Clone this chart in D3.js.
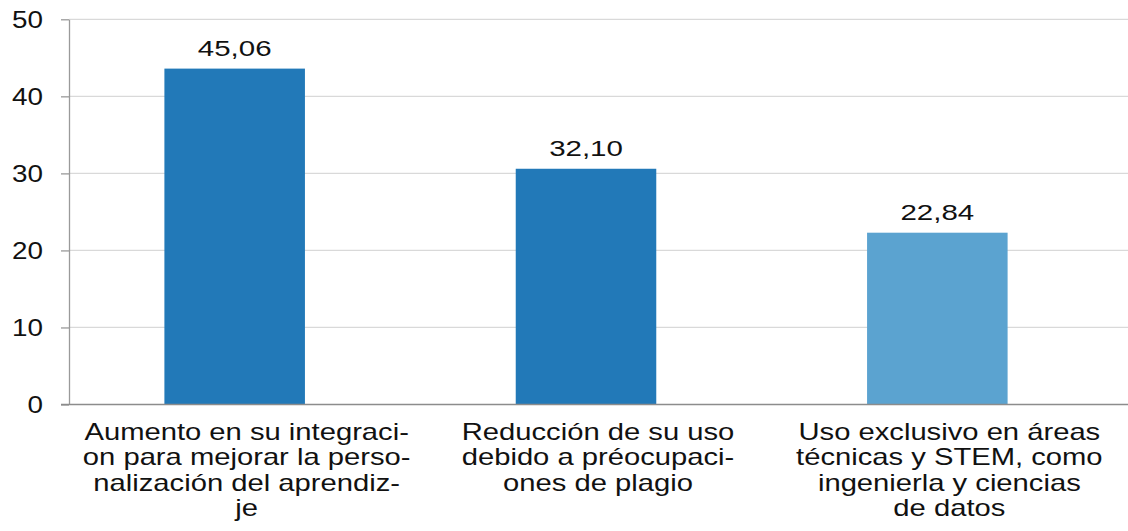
<!DOCTYPE html>
<html>
<head>
<meta charset="utf-8">
<script src="https://cdn.jsdelivr.net/npm/d3@7"></script>
<style>
  body { margin: 0; background: #fff; }
  text { font-family: "Liberation Sans", Arial, sans-serif; fill: #111; }
</style>
</head>
<body>
<script>
'use strict';

// bar heights as drawn in the picture, and the printed value labels
const barValues = [43.6, 30.6, 22.3];
const valueLabels = ["45,06", "32,10", "22,84"];
const barColors = ["#2279B8", "#2279B8", "#5BA3D0"];
const yTicks = [0, 10, 20, 30, 40, 50];
const categoryLines = [
  ["Aumento en su integraci-", "on para mejorar la perso-", "nalización del aprendiz-", "je"],
  ["Reducción de su uso", "debido a préocupaci-", "ones de plagio"],
  ["Uso exclusivo en áreas", "técnicas y STEM, como", "ingenierla y ciencias", "de datos"]
];
const categories = categoryLines.map(l => l.join(" "));

const width = 1128, height = 531;

const svg = d3.select("body").append("svg")
  .attr("width", width)
  .attr("height", height);

const x = d3.scaleBand()
  .domain(categories)
  .range([59, 1113])
  .paddingInner(0.6)
  .paddingOuter(0.3);

const y = d3.scaleLinear()
  .domain([0, 50])
  .range([404.5, 19.3]);

const axisX = 69;

// gridlines
svg.append("g")
  .selectAll("line")
  .data(yTicks.filter(t => t > 0))
  .enter()
  .append("line")
    .attr("x1", axisX)
    .attr("x2", width)
    .attr("y1", d => y(d))
    .attr("y2", d => y(d))
    .attr("stroke", "#d9d9d9")
    .attr("stroke-width", 1.3);

// bars
svg.append("g")
  .selectAll("rect")
  .data(barValues)
  .enter()
  .append("rect")
    .attr("x", (d, i) => x(categories[i]))
    .attr("width", x.bandwidth())
    .attr("y", d => y(d))
    .attr("height", d => y(0) - y(d))
    .attr("fill", (d, i) => barColors[i]);

// value labels
svg.append("g")
  .selectAll("text")
  .data(barValues)
  .enter()
  .append("text")
    .attr("transform", (d, i) =>
      "translate(" + (x(categories[i]) + x.bandwidth() / 2) + "," + (y(d) - 13) + ") scale(1.34,1)")
    .attr("text-anchor", "middle")
    .style("font-size", "22px")
    .text((d, i) => valueLabels[i]);

// y axis
const yAxis = d3.axisLeft(y)
  .tickValues(yTicks)
  .tickSize(8)
  .tickSizeOuter(0)
  .tickFormat(d3.format("d"));

const gy = svg.append("g")
  .attr("transform", "translate(" + axisX + ",0)")
  .call(yAxis);

gy.select(".domain").attr("stroke", "#9a9a9a").attr("stroke-width", 1.3);
gy.selectAll(".tick line").attr("stroke", "#9a9a9a").attr("stroke-width", 1.3);
gy.selectAll(".tick text")
  .attr("x", 0)
  .attr("dy", "0.36em")
  .attr("transform", "translate(-26,0) scale(1.21,1)")
  .style("font-size", "23px")
  .attr("fill", "#111");

// baseline
svg.append("line")
  .attr("x1", axisX - 8)
  .attr("x2", width)
  .attr("y1", y(0))
  .attr("y2", y(0))
  .attr("stroke", "#8c8c8c")
  .attr("stroke-width", 1.6);

// category labels
const catGroups = svg.append("g")
  .selectAll("g")
  .data(categoryLines)
  .enter()
  .append("g")
    .attr("transform", (d, i) =>
      "translate(" + (x(categories[i]) + x.bandwidth() / 2 + 12) + ",0)");

catGroups.selectAll("text")
  .data(d => d)
  .enter()
  .append("text")
    .attr("transform", (d, j) => "translate(0," + (440 + j * 25.3) + ") scale(1.27,1)")
    .attr("text-anchor", "middle")
    .style("font-size", "23px")
    .text(d => d);
</script>
</body>
</html>
